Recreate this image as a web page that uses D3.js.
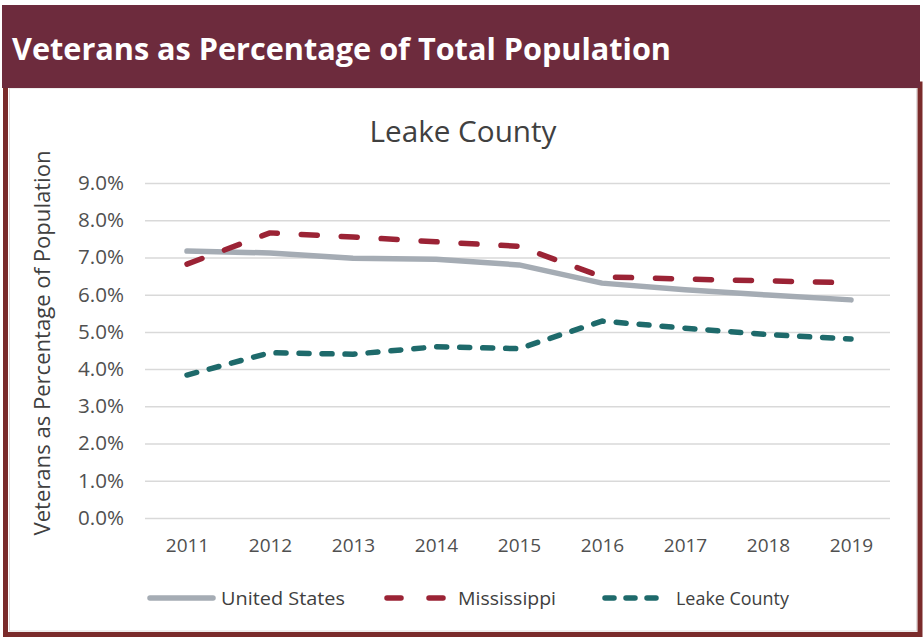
<!DOCTYPE html>
<html><head><meta charset="utf-8">
<script src="https://cdn.jsdelivr.net/npm/d3@7"></script>
<style>body{margin:0;background:#fff}svg{display:block}</style>
</head><body>
<script>
const years = ["2011","2012","2013","2014","2015","2016","2017","2018","2019"];
const unitedStates = [7.17,7.12,6.98,6.95,6.80,6.31,6.13,5.99,5.86];
const mississippi  = [6.82,7.66,7.55,7.42,7.30,6.48,6.42,6.37,6.32];
const leakeCounty  = [3.84,4.44,4.40,4.60,4.55,5.29,5.10,4.93,4.81];
const yTicks = [0,1,2,3,4,5,6,7,8,9];
const seriesNames = ["United States","Mississippi","Leake County"];

const W=923,H=638;
const svg=d3.select("body").append("svg").attr("width",W).attr("height",H);
const FONT="'Open Sans',sans-serif";

// frame
const frameColor="#7A2B2B";
svg.append("rect").attr("x",0).attr("y",0).attr("width",W).attr("height",H).attr("fill","#fff");
svg.append("rect").attr("x",5.5).attr("y",84).attr("width",914.5).attr("height",550.5)
  .attr("fill","none").attr("stroke",frameColor).attr("stroke-width",5);
svg.append("rect").attr("x",9.5).attr("y",88).attr("width",907).attr("height",543)
  .attr("fill","none").attr("stroke","#e0dcdc").attr("stroke-width",1);
// header
svg.append("rect").attr("x",2).attr("y",5).attr("width",918).attr("height",83).attr("fill","#6D2B3D");
svg.append("text").attr("x",12).attr("y",60).attr("fill","#fff")
  .attr("font-family",FONT).attr("font-weight",700).attr("font-size",31)
  .attr("textLength",659).attr("lengthAdjust","spacingAndGlyphs")
  .text("Veterans as Percentage of Total Population");

// chart title
svg.append("text").attr("x",463).attr("y",142).attr("text-anchor","middle")
  .attr("font-family",FONT).attr("font-size",29).attr("fill","#404040")
  .attr("textLength",187).attr("lengthAdjust","spacingAndGlyphs")
  .text("Leake County");

const x=d3.scalePoint().domain(years).range([187,851]);
const y=d3.scaleLinear().domain([0,9]).range([518,183]);

// grid
const gAxisY=svg.append("g").attr("transform","translate(145,0)")
  .call(d3.axisLeft(y).tickValues(yTicks).tickSize(-745).tickFormat(d=>d3.format(".1f")(d)+"%"));
gAxisY.select(".domain").remove();
gAxisY.selectAll(".tick line").attr("stroke","#d9d9d9").attr("stroke-width",1.5);
gAxisY.selectAll(".tick text").attr("x",-21).attr("font-family",FONT)
  .attr("font-size",20).attr("fill","#505050")
  .attr("textLength",46).attr("lengthAdjust","spacingAndGlyphs");

const gAxisX=svg.append("g").attr("transform","translate(0,518)")
  .call(d3.axisBottom(x).tickSize(0).tickPadding(21));
gAxisX.select(".domain").remove();
gAxisX.selectAll(".tick text").attr("font-family",FONT)
  .attr("font-size",19).attr("fill","#505050");

svg.append("text").attr("transform","translate(50,343) rotate(-90)").attr("text-anchor","middle")
  .attr("font-family",FONT).attr("font-size",21).attr("fill","#404040")
  .attr("textLength",385).attr("lengthAdjust","spacingAndGlyphs")
  .text("Veterans as Percentage of Population");

const styles=[
  {data:unitedStates,color:"#A5ACB4",dash:null},
  {data:mississippi,color:"#9B2335",dash:"16,24"},
  {data:leakeCounty,color:"#1E6A6B",dash:"10,13"}
];
const line=d3.line().x((d,i)=>x(years[i])).y(d=>y(d));
styles.forEach(s=>{
  svg.append("path").datum(s.data).attr("d",line).attr("fill","none")
    .attr("stroke",s.color).attr("stroke-width",5.5).attr("stroke-linecap","round")
    .attr("stroke-linejoin","round").attr("stroke-dasharray",s.dash);
});

// legend
const legX=[150,387,605];
const legDash=[null,"14,28","9,12"];
const legLen=[124,98,113];
seriesNames.forEach((n,i)=>{
  svg.append("line").attr("x1",legX[i]).attr("x2",legX[i]+63).attr("y1",598).attr("y2",598)
    .attr("stroke",styles[i].color).attr("stroke-width",5.5).attr("stroke-linecap","round")
    .attr("stroke-dasharray",legDash[i]);
  svg.append("text").attr("x",legX[i]+71).attr("y",605)
    .attr("font-family",FONT).attr("font-size",19).attr("fill","#404040")
    .attr("textLength",legLen[i]).attr("lengthAdjust","spacingAndGlyphs").text(n);
});
</script>
</body></html>
